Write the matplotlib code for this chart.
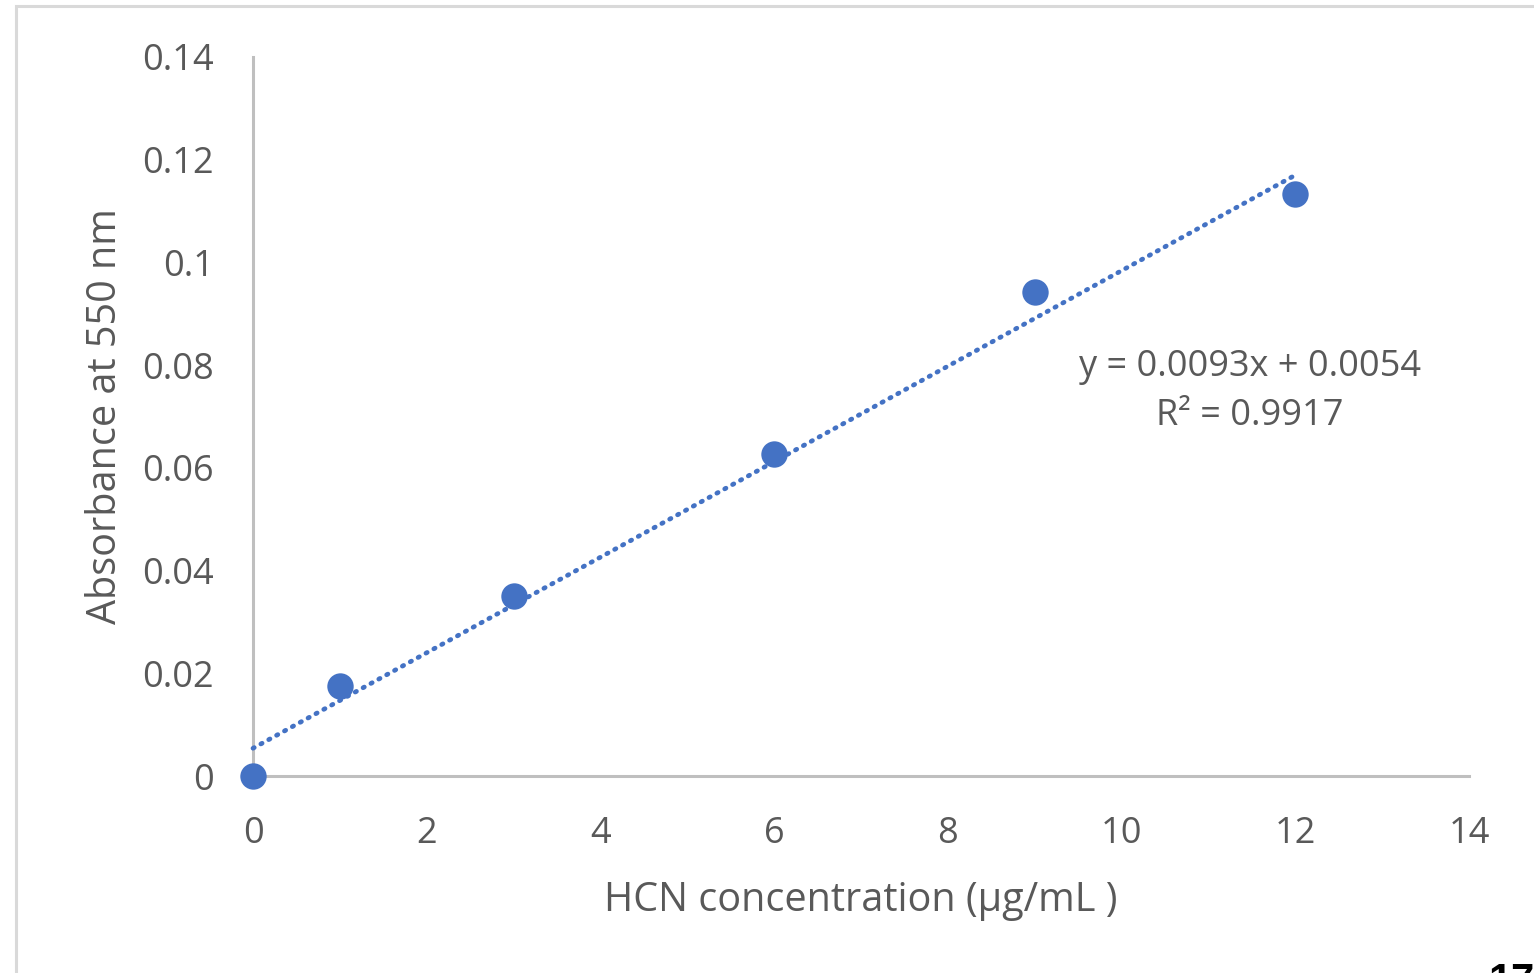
import matplotlib
matplotlib.use("Agg")
import matplotlib.pyplot as plt
from matplotlib.patches import Rectangle
import numpy as np

# Data
conc = [0, 1, 3, 6, 9, 12]
absorb = [0.0, 0.0175, 0.0351, 0.0627, 0.0943, 0.1133]
slope = 0.0093
intercept = 0.0054
r2 = 0.9917
x_ticks = [0, 2, 4, 6, 8, 10, 12, 14]
y_ticks = [0, 0.02, 0.04, 0.06, 0.08, 0.1, 0.12, 0.14]
y_tick_labels = ["0", "0.02", "0.04", "0.06", "0.08", "0.1", "0.12", "0.14"]

plt.rcParams['font.family'] = ['Open Sans', 'DejaVu Sans']
gray = "#595959"
blue = "#4472C4"

fig = plt.figure(figsize=(15.34, 9.73), dpi=100)
ax = fig.add_axes([253/1534, 197/973, 1216/1534, 719/973])

ax.set_xlim(0, 14)
ax.set_ylim(0, 0.14)

# trendline
xt = np.array([0, 12])
ax.plot(xt, slope * xt + intercept, linestyle=(0, (0.3, 1.6)), color=blue,
        lw=3.4, dash_capstyle='round', zorder=2, clip_on=False)
ax.plot(conc, absorb, 'o', color=blue, markersize=19, markeredgewidth=0,
        zorder=3, clip_on=False)

for s in ['top', 'right']:
    ax.spines[s].set_visible(False)
for s in ['left', 'bottom']:
    ax.spines[s].set_color("#BFBFBF")
    ax.spines[s].set_linewidth(2.2)
    ax.spines[s].set_zorder(1)

ax.set_xticks(x_ticks)
ax.set_yticks(y_ticks)
ax.set_yticklabels(y_tick_labels)
ax.tick_params(length=0, labelsize=26, labelcolor=gray)
ax.tick_params(axis='y', pad=28)
ax.tick_params(axis='x', pad=29)

ax.set_xlabel("HCN concentration (µg/mL )", fontsize=28.5, color=gray, labelpad=20)
ax.set_ylabel("Absorbance at 550 nm", fontsize=28.5, color=gray, labelpad=12)

ax.text(11.48, 0.0748, f"y = {slope}x + {intercept}\nR² = {r2}", fontsize=26,
        color=gray, ha='center', va='center', linespacing=1.48)

# chart frame
fig.patches.append(Rectangle((16/1534, -0.1), 1.2, (973-6)/973 + 0.1,
                             transform=fig.transFigure, fill=False,
                             edgecolor="#D9D9D9", lw=2.2))

# page number fragment (cut off at the page edge, as in the source)
fig.text(1488/1534, (973-962)/973, "17", fontsize=30, fontweight='bold',
         color='black', va='top', ha='left', family=['Liberation Sans'])

fig.savefig("out.png", dpi=100)
